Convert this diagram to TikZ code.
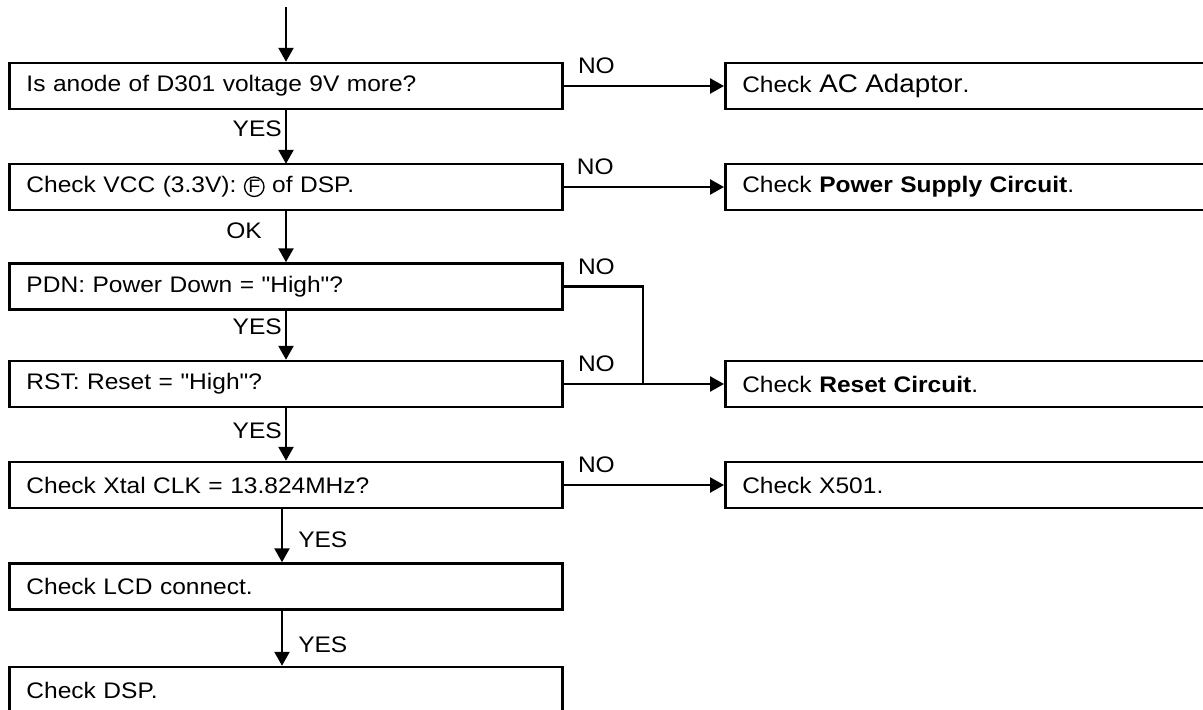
\documentclass[tikz,border=0pt]{standalone}
\usepackage{fontspec}
\setmainfont[FakeStretch=1.09, Ligatures=TeXOff]{Liberation Sans}
\usetikzlibrary{arrows.meta}
\newcommand{\encircle}[1]{\tikz[baseline=(cf.base)]\node[cfmark] (cf) {\fontsize{18}{19}\selectfont #1};}

\begin{document}
\begin{tikzpicture}[x=1pt, y=-1pt, line width=2.5pt,
    every node/.style={font=\fontsize{22.5}{26}\selectfont},
    box/.style={draw, rectangle, minimum width=553pt, minimum height=46pt,
      text width=519pt, align=left, inner xsep=17pt, inner ysep=0pt},
    rbox/.style={box, anchor=west, minimum width=500pt, text width=466pt},
    cfmark/.style={draw, circle, minimum width=0pt, minimum height=0pt,
      inner sep=0.8pt, line width=1.3pt, text width={}},
    lbl/.style={inner sep=3pt},
    arr/.style={-{Triangle[length=14pt,width=15pt]}}]
      \path[use as bounding box, clip] (0,0) rectangle (1203,710);

      % Nodes
      \node (b1) [box] at (286,86)    {Is anode of D301 voltage 9V more?};
      \node (b2) [box] at (286,187)   {Check VCC (3.3V): \encircle{F} of DSP.};
      \node (b3) [box] at (286,286.5) {PDN: Power Down = "High"?};
      \node (b4) [box] at (286,384)   {RST: Reset = "High"?};
      \node (b5) [box] at (286,485)   {Check Xtal CLK = 13.824MHz?};
      \node (b6) [box] at (286,586.5) {Check LCD connect.};
      \node (b7) [box] at (286,690)   {Check DSP.};

      \node (ac)   [rbox] at (724,86)  {Check {\fontsize{25.5}{28}\selectfont AC Adaptor}.};
      \node (psu)  [rbox] at (724,187) {Check \textbf{Power Supply Circuit}.};
      \node (rst)  [rbox] at (724,384) {Check \textbf{Reset Circuit}.};
      \node (xtal) [rbox] at (724,485) {Check X501.};

      \coordinate (in) at (286,7);
      \coordinate (j) at (643,384);

      % Main line
      \draw[arr] (in) -- (b1);
      \draw[arr] (b1) -- node[lbl, left, pos=0.35] {YES} (b2);
      \draw[arr] (b2) -- node[lbl, left=20pt, pos=0.4] {OK} (b3);
      \draw[arr] (b3) -- node[lbl, left, pos=0.33] {YES} (b4);
      \draw[arr] (b4) -- node[lbl, left, pos=0.42] {YES} (b5);
      \draw[arr] ([xshift=-4pt]b5.south) -- node[lbl, right=12pt, pos=0.58] {YES} ([xshift=-4pt]b6.north);
      \draw[arr] ([xshift=-4pt]b6.south) -- node[lbl, right=12pt, pos=0.61] {YES} ([xshift=-4pt]b7.north);

      % NO branches
      \foreach \u/\v in {b1/ac, b2/psu, b4/rst, b5/xtal}
        \draw[arr] (\u.east) -- node[lbl, pos=0, anchor=south west, xshift=10pt, yshift=8pt] {NO} (\v.west);
      \draw (b3.east) -- node[lbl, pos=0, anchor=south west, xshift=10pt, yshift=8pt] {NO} (b3.east -| j) -- (j);

    \end{tikzpicture}
\end{document}
